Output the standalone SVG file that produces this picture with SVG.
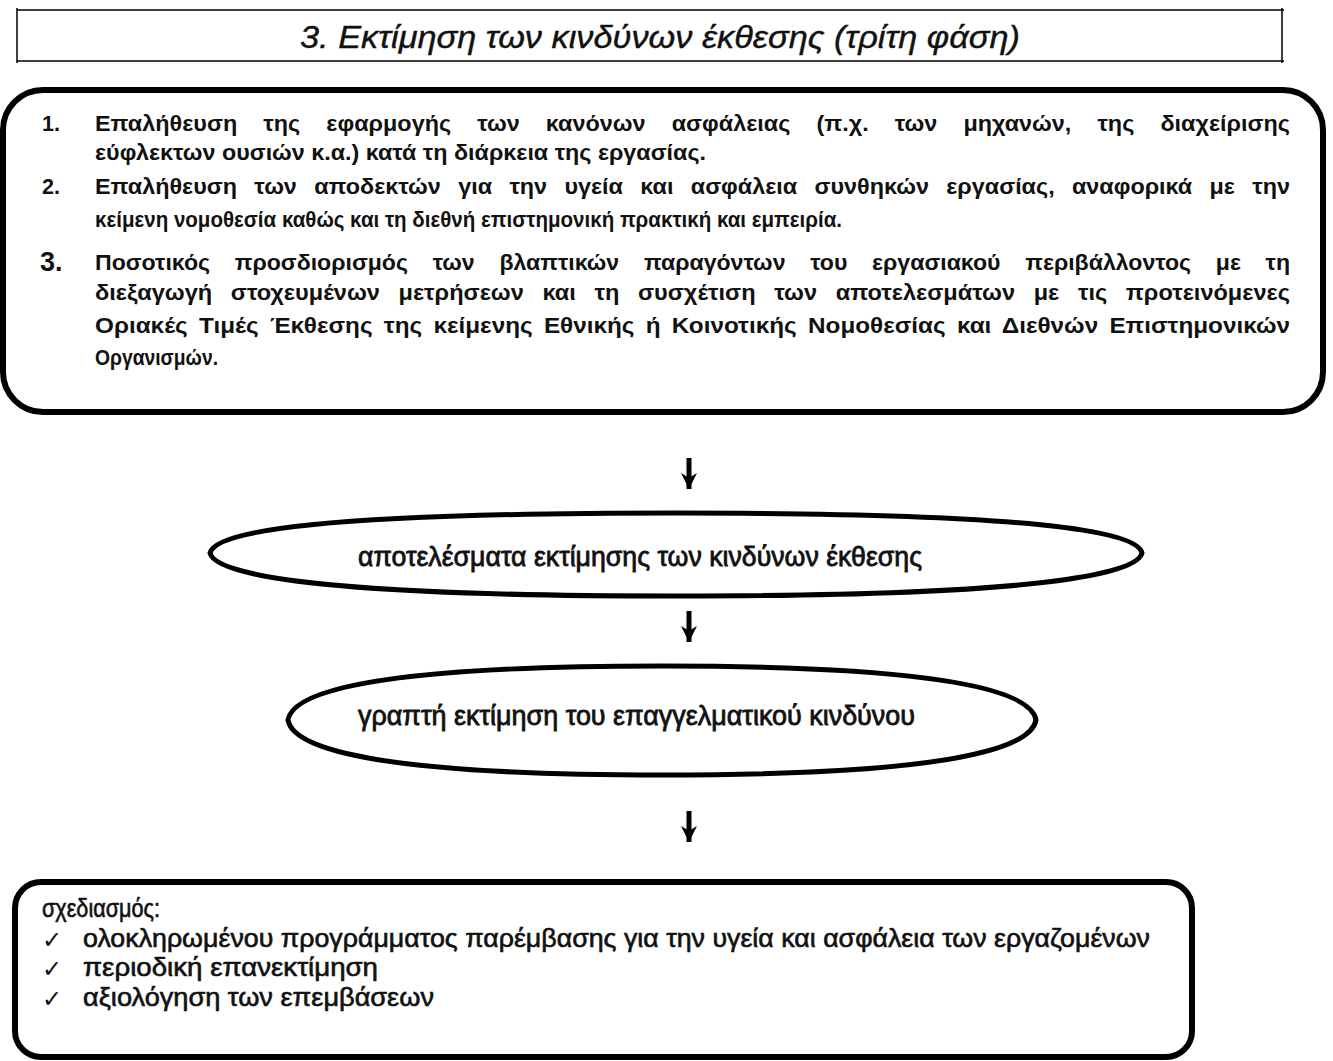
<svg xmlns="http://www.w3.org/2000/svg" width="1333" height="1061" viewBox="0 0 1333 1061">
<defs>
<style>
.box{fill:#fff;stroke:#000;stroke-width:6}
.b{font-family:"Liberation Sans",Arial,sans-serif;font-weight:bold;font-size:21.5px;fill:#111}
.n{font-family:"Liberation Sans",Arial,sans-serif;font-size:27px;fill:#111;stroke:#111;stroke-width:0.8}
.m{font-family:"Liberation Sans",Arial,sans-serif;font-size:25px;fill:#111;stroke:#111;stroke-width:0.6}
.ck{font-family:"DejaVu Sans",sans-serif;font-size:24px;fill:#111}
.t{font-family:"Liberation Sans",Arial,sans-serif;font-style:italic;font-size:32px;fill:#111;stroke:#111;stroke-width:0.4}
.ar{stroke:#000;stroke-width:5;fill:none}
</style>
<marker id="ah" viewBox="0 0 10 10" refX="10" refY="5" markerWidth="16" markerHeight="16" markerUnits="userSpaceOnUse" orient="auto">
<path d="M0,0 L10,5 L0,10 L3,5 Z" fill="#000"/>
</marker>
</defs>
<rect width="1333" height="1061" fill="#fff"/>
<g id="title">
<line x1="17" y1="10" x2="1284" y2="10" stroke="#000" stroke-width="1.5"/>
<line x1="17" y1="61" x2="1284" y2="61" stroke="#000" stroke-width="1.5"/>
<line x1="17" y1="8" x2="17" y2="63" stroke="#000" stroke-width="1.5"/>
<line x1="1282" y1="8" x2="1282" y2="63" stroke="#000" stroke-width="1.5"/>
<text class="t" x="300" y="48" textLength="720" lengthAdjust="spacingAndGlyphs">3. Εκτίμηση των κινδύνων έκθεσης (τρίτη φάση)</text>
</g>
<g id="phase3">
<rect class="box" x="3" y="90" width="1320" height="322" rx="40"/>
<text class="b" x="42" y="131">1.</text>
<text class="b" x="95" y="131" word-spacing="18" textLength="1195" lengthAdjust="spacingAndGlyphs">Επαλήθευση της εφαρμογής των κανόνων ασφάλειας (π.χ. των μηχανών, της διαχείρισης</text>
<text class="b" x="95" y="160" textLength="611" lengthAdjust="spacingAndGlyphs">εύφλεκτων ουσιών κ.α.) κατά τη διάρκεια της εργασίας.</text>
<text class="b" x="42" y="194">2.</text>
<text class="b" x="95" y="194" word-spacing="10" textLength="1195" lengthAdjust="spacingAndGlyphs">Επαλήθευση των αποδεκτών για την υγεία και ασφάλεια συνθηκών εργασίας, αναφορικά με την</text>
<text class="b" x="95" y="227" textLength="747" lengthAdjust="spacingAndGlyphs">κείμενη νομοθεσία καθώς και τη διεθνή επιστημονική πρακτική και εμπειρία.</text>
<text class="b" x="40" y="271" style="font-size:27px">3.</text>
<text class="b" x="95" y="270" word-spacing="17" textLength="1195" lengthAdjust="spacingAndGlyphs">Ποσοτικός προσδιορισμός των βλαπτικών παραγόντων του εργασιακού περιβάλλοντος με τη</text>
<text class="b" x="95" y="300" word-spacing="11" textLength="1195" lengthAdjust="spacingAndGlyphs">διεξαγωγή στοχευμένων μετρήσεων και τη συσχέτιση των αποτελεσμάτων με τις προτεινόμενες</text>
<text class="b" x="95" y="333" word-spacing="4" textLength="1195" lengthAdjust="spacingAndGlyphs">Οριακές Τιμές Έκθεσης της κείμενης Εθνικής ή Κοινοτικής Νομοθεσίας και Διεθνών Επιστημονικών</text>
<text class="b" x="95" y="365" textLength="123" lengthAdjust="spacingAndGlyphs">Οργανισμών.</text>
</g>
<g id="results">
<path class="box" style="stroke-width:5" d="M210,553 C215,531 320,513 676,513 C1032,513 1137,531 1142,553 C1137,575 1032,596 676,596 C320,596 215,575 210,553 Z"/>
<text class="n" x="358" y="566" textLength="564" lengthAdjust="spacingAndGlyphs">αποτελέσματα εκτίμησης των κινδύνων έκθεσης</text>
</g>
<g id="written">
<path class="box" style="stroke-width:5" d="M288,720 C293,691 378,666 662,666 C946,666 1031,691 1036,720 C1031,749 946,775 662,775 C378,775 293,749 288,720 Z"/>
<text class="n" x="358" y="725" textLength="557" lengthAdjust="spacingAndGlyphs">γραπτή εκτίμηση του επαγγελματικού κινδύνου</text>
</g>
<g id="planning">
<rect class="box" x="15" y="882" width="1177" height="175" rx="26"/>
<text class="m" x="42" y="917" textLength="118" lengthAdjust="spacingAndGlyphs">σχεδιασμός:</text>
<text class="ck" x="42" y="948">✓</text>
<text class="m" x="83" y="947" textLength="1067" lengthAdjust="spacingAndGlyphs">ολοκληρωμένου προγράμματος παρέμβασης για την υγεία και ασφάλεια των εργαζομένων</text>
<text class="ck" x="42" y="977">✓</text>
<text class="m" x="83" y="976" textLength="295" lengthAdjust="spacingAndGlyphs">περιοδική επανεκτίμηση</text>
<text class="ck" x="42" y="1007">✓</text>
<text class="m" x="83" y="1006" textLength="351" lengthAdjust="spacingAndGlyphs">αξιολόγηση των επεμβάσεων</text>
</g>
<g id="connectors">
<line class="ar" x1="689" y1="458" x2="689" y2="489" marker-end="url(#ah)"/>
<line class="ar" x1="689" y1="611" x2="689" y2="642" marker-end="url(#ah)"/>
<line class="ar" x1="689" y1="811" x2="689" y2="842" marker-end="url(#ah)"/>
</g>
</svg>
